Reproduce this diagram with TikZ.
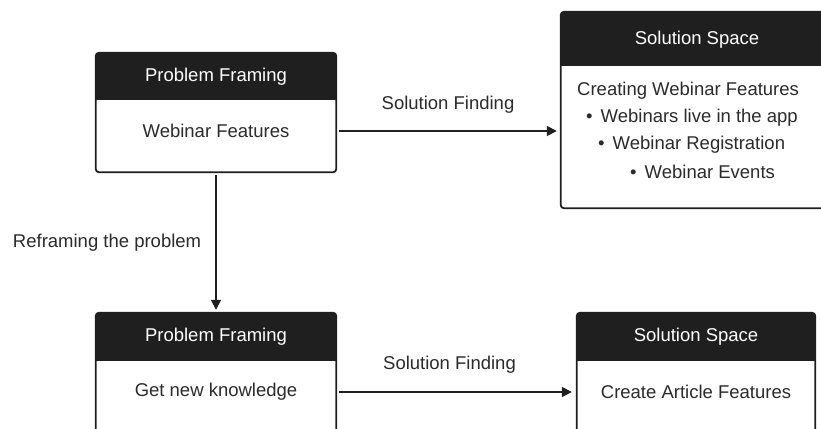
\documentclass[tikz,border=0pt]{standalone}
\usepackage{fontspec}
\setmainfont{Liberation Sans}
\usetikzlibrary{arrows.meta,calc}
\definecolor{ink}{HTML}{1F1F1F}
\definecolor{txt}{HTML}{2B2B2B}
\newcommand{\boxheader}[2]{%
  \fill[ink] ([yshift=-#2pt]#1.north west) [rounded corners=3pt] -- (#1.north west)
    -- (#1.north east) [sharp corners] -- ([yshift=-#2pt]#1.north east) -- cycle;
  \draw[frame] (#1.north west) rectangle (#1.south east);}
\tikzset{
  frame/.style={draw=ink, line width=1.8pt, rounded corners=3pt},
  panel/.style={rectangle, inner sep=0pt},
  title/.style={text=white, font=\fontsize{18.5}{22}\selectfont, inner sep=0pt},
  body/.style={text=txt, font=\fontsize{18.5}{22}\selectfont, inner sep=0pt},
  lbl/.style={text=txt, font=\fontsize{18.5}{22}\selectfont, inner sep=0pt},
  arr/.style={draw=ink, line width=1.7pt, -{Triangle[length=10pt,width=10pt]}}
}
\begin{document}
\begin{tikzpicture}[x=1pt,y=-1pt]
\useasboundingbox[fill=white] (0,0) rectangle (821,428);

% panels
\node[panel, minimum width=240pt, minimum height=119pt] (pf1) at (216,112.5) {};
\node[panel, minimum width=272pt, minimum height=196pt] (ss1) at (697,110) {};
\node[panel, minimum width=240pt, minimum height=119pt] (pf2) at (216,372.5) {};
\node[panel, minimum width=238pt, minimum height=119pt] (ss2) at (696,372.5) {};

\boxheader{pf1}{47}
\boxheader{ss1}{54}
\boxheader{pf2}{48}
\boxheader{ss2}{48}

% header titles
\node[title] (pf1t) at (216,77) {Problem Framing};
\node[title] (ss1t) at (697,40) {Solution Space};
\node[title] (pf2t) at (216,337) {Problem Framing};
\node[title] (ss2t) at (696,337) {Solution Space};

% panel contents
\node[body] (wf) at (216,131) {Webinar Features};
\node[body, anchor=west] (cw) at (577,91) {Creating Webinar Features};
\node[body, anchor=west] (b1) at (586,118) {•\hspace{8pt}Webinars live in the app};
\node[body, anchor=west] (b2) at (598,145) {•\hspace{8pt}Webinar Registration};
\node[body, anchor=west] (b3) at (630,172) {•\hspace{8pt}Webinar Events};
\node[body] (gk) at (216,392) {Get new knowledge};
\node[body] (ca) at (696,392) {Create Article Features};

% connectors
\draw[arr] ([xshift=3pt]pf1.east |- wf.center) -- ([xshift=-4pt]ss1.west |- wf.center)
  node[lbl, midway, yshift=26pt] {Solution Finding};
\draw[arr] ([xshift=3pt]pf2.east |- gk.center) -- ([xshift=-5pt]ss2.west |- gk.center)
  node[lbl, midway, yshift=27pt, xshift=-6pt] {Solution Finding};
\draw[arr] ([yshift=-3pt]pf1.south) -- ([yshift=3pt]pf2.north)
  node[lbl, midway, left=14pt] {Reframing the problem};
\end{tikzpicture}
\end{document}
